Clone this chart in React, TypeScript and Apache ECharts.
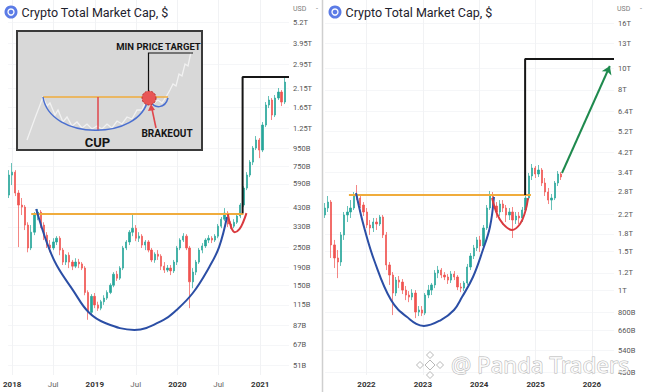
import React, { useEffect, useRef } from "react";
import * as echarts from "echarts";

// [date, open, close, low, high] in billions USD
type Candle = [string, number, number, number, number];
type Pt = [string, number];

const leftCandles: Candle[] = [
  ["2017-12-18", 507, 664, 487, 710],
  ["2018-01-01", 664, 691, 580, 781],
  ["2018-01-15", 691, 521, 500, 710],
  ["2018-01-29", 521, 443, 251, 542],
  ["2018-02-12", 443, 431, 387, 487],
  ["2018-02-26", 431, 338, 316, 443],
  ["2018-03-12", 338, 248, 234, 351],
  ["2018-03-26", 248, 307, 241, 338],
  ["2018-04-09", 307, 387, 295, 403],
  ["2018-04-23", 387, 403, 361, 420],
  ["2018-05-07", 403, 338, 324, 414],
  ["2018-05-21", 338, 295, 276, 351],
  ["2018-06-04", 295, 258, 248, 307],
  ["2018-06-18", 258, 248, 234, 276],
  ["2018-07-02", 248, 269, 241, 283],
  ["2018-07-16", 269, 283, 258, 291],
  ["2018-07-30", 283, 241, 225, 291],
  ["2018-08-13", 241, 205, 197, 248],
  ["2018-08-27", 205, 225, 197, 228],
  ["2018-09-10", 225, 205, 189, 234],
  ["2018-09-24", 205, 194, 184, 211],
  ["2018-10-08", 194, 205, 189, 216],
  ["2018-10-22", 205, 200, 189, 214],
  ["2018-11-05", 200, 189, 184, 205],
  ["2018-11-19", 189, 136, 131, 194],
  ["2018-12-03", 136, 104, 94, 140],
  ["2018-12-17", 104, 129, 99, 133],
  ["2018-12-31", 129, 115, 110, 135],
  ["2019-01-14", 115, 110, 106, 120],
  ["2019-01-28", 110, 120, 107, 123],
  ["2019-02-11", 120, 126, 115, 131],
  ["2019-02-25", 126, 136, 123, 140],
  ["2019-03-11", 136, 150, 133, 154],
  ["2019-03-25", 150, 174, 146, 179],
  ["2019-04-08", 174, 165, 159, 182],
  ["2019-04-22", 165, 189, 161, 194],
  ["2019-05-06", 189, 248, 184, 255],
  ["2019-05-20", 248, 269, 241, 276],
  ["2019-06-03", 269, 307, 258, 316],
  ["2019-06-17", 307, 324, 291, 397],
  ["2019-07-01", 324, 283, 272, 338],
  ["2019-07-15", 283, 291, 269, 307],
  ["2019-07-29", 291, 258, 248, 299],
  ["2019-08-12", 258, 269, 241, 276],
  ["2019-08-26", 269, 241, 234, 276],
  ["2019-09-09", 241, 211, 205, 248],
  ["2019-09-23", 211, 228, 203, 234],
  ["2019-10-07", 228, 222, 211, 241],
  ["2019-10-21", 222, 194, 184, 228],
  ["2019-11-04", 194, 184, 177, 205],
  ["2019-11-18", 184, 189, 179, 197],
  ["2019-12-02", 189, 182, 172, 197],
  ["2019-12-16", 182, 205, 177, 211],
  ["2019-12-30", 205, 248, 197, 255],
  ["2020-01-13", 248, 276, 241, 283],
  ["2020-01-27", 276, 291, 269, 303],
  ["2020-02-10", 291, 248, 241, 299],
  ["2020-02-24", 248, 157, 110, 255],
  ["2020-03-09", 157, 179, 144, 189],
  ["2020-03-23", 179, 205, 172, 211],
  ["2020-04-06", 205, 241, 200, 248],
  ["2020-04-20", 241, 255, 231, 265],
  ["2020-05-04", 255, 276, 248, 283],
  ["2020-05-18", 276, 283, 265, 295],
  ["2020-06-01", 283, 276, 265, 291],
  ["2020-06-15", 276, 291, 269, 299],
  ["2020-06-29", 291, 333, 283, 343],
  ["2020-07-13", 333, 366, 324, 377],
  ["2020-07-27", 366, 397, 356, 425],
  ["2020-08-10", 397, 343, 329, 408],
  ["2020-08-24", 343, 333, 320, 356],
  ["2020-09-07", 333, 351, 324, 366],
  ["2020-09-21", 351, 382, 343, 392],
  ["2020-10-05", 382, 443, 371, 455],
  ["2020-10-19", 443, 557, 431, 572],
  ["2020-11-02", 557, 664, 542, 691],
  ["2020-11-16", 664, 791, 646, 813],
  ["2020-11-30", 791, 956, 760, 983],
  ["2020-12-14", 956, 1066, 931, 1125],
  ["2020-12-28", 1066, 931, 835, 1095],
  ["2021-01-11", 931, 1305, 906, 1359],
  ["2021-01-25", 1305, 1710, 1270, 1781],
  ["2021-02-08", 1710, 1830, 1642, 1932],
  ["2021-02-22", 1830, 1494, 1397, 1880],
  ["2021-03-08", 1494, 1880, 1454, 1958],
  ["2021-03-22", 1880, 2038, 1830, 2152],
  ["2021-04-05", 2038, 1781, 1687, 2095],
  ["2021-04-19", 1781, 2332, 1733, 2462],
];

const rightCandles: Candle[] = [
  ["2021-04-05", 2189, 2353, 2122, 2478],
  ["2021-04-26", 2353, 2502, 2258, 2665],
  ["2021-05-17", 2502, 1605, 1402, 2555],
  ["2021-06-07", 1605, 1402, 1263, 1690],
  ["2021-06-28", 1402, 1345, 1138, 1523],
  ["2021-07-19", 1345, 1780, 1291, 1835],
  ["2021-08-09", 1780, 2189, 1690, 2258],
  ["2021-08-30", 2189, 2258, 2035, 2402],
  ["2021-09-20", 2258, 2353, 2122, 2555],
  ["2021-10-11", 2353, 2693, 2305, 2778],
  ["2021-11-01", 2693, 2609, 2555, 2986],
  ["2021-11-22", 2609, 2427, 2353, 2721],
  ["2021-12-13", 2427, 2258, 2166, 2502],
  ["2022-01-03", 2258, 1973, 1913, 2353],
  ["2022-01-24", 1973, 1913, 1780, 2078],
  ["2022-02-14", 1913, 2035, 1835, 2122],
  ["2022-03-07", 2035, 1994, 1874, 2122],
  ["2022-03-28", 1994, 2144, 1953, 2189],
  ["2022-04-18", 2144, 1780, 1725, 2189],
  ["2022-05-09", 1780, 1304, 1237, 1835],
  ["2022-05-30", 1304, 1175, 1060, 1345],
  ["2022-06-20", 1175, 975, 776, 1212],
  ["2022-07-11", 975, 1115, 945, 1151],
  ["2022-08-01", 1115, 1092, 1026, 1163],
  ["2022-08-22", 1092, 1005, 965, 1127],
  ["2022-09-12", 1005, 955, 906, 1049],
  ["2022-10-03", 955, 935, 887, 995],
  ["2022-10-24", 935, 975, 906, 1015],
  ["2022-11-14", 975, 801, 752, 1005],
  ["2022-12-05", 801, 818, 768, 852],
  ["2022-12-26", 818, 792, 768, 852],
  ["2023-01-16", 792, 955, 776, 975],
  ["2023-02-06", 955, 1005, 925, 1060],
  ["2023-02-27", 1005, 1060, 955, 1082],
  ["2023-03-20", 1060, 1200, 1026, 1237],
  ["2023-04-10", 1200, 1237, 1138, 1291],
  ["2023-05-01", 1237, 1175, 1138, 1263],
  ["2023-05-22", 1175, 1151, 1115, 1212],
  ["2023-06-12", 1151, 1115, 1071, 1187],
  ["2023-07-03", 1115, 1187, 1082, 1224],
  ["2023-07-24", 1187, 1151, 1115, 1224],
  ["2023-08-14", 1151, 1038, 1005, 1175],
  ["2023-09-04", 1038, 1026, 984, 1082],
  ["2023-09-25", 1026, 1082, 995, 1104],
  ["2023-10-16", 1082, 1277, 1060, 1318],
  ["2023-11-06", 1277, 1431, 1237, 1476],
  ["2023-11-27", 1431, 1555, 1387, 1605],
  ["2023-12-18", 1555, 1690, 1507, 1743],
  ["2024-01-08", 1690, 1588, 1492, 1762],
  ["2024-01-29", 1588, 1913, 1539, 1973],
  ["2024-02-19", 1913, 2353, 1874, 2427],
  ["2024-03-11", 2353, 2693, 2305, 2807],
  ["2024-04-01", 2693, 2402, 2305, 2778],
  ["2024-04-22", 2402, 2258, 2122, 2502],
  ["2024-05-13", 2258, 2452, 2166, 2555],
  ["2024-06-03", 2452, 2353, 2258, 2555],
  ["2024-06-24", 2353, 2189, 2035, 2427],
  ["2024-07-15", 2189, 2258, 2078, 2353],
  ["2024-08-05", 2258, 2078, 1725, 2377],
  ["2024-08-26", 2078, 2166, 1994, 2258],
  ["2024-09-16", 2166, 2122, 1994, 2258],
  ["2024-10-07", 2122, 2305, 2035, 2377],
  ["2024-10-28", 2305, 2609, 2258, 2693],
  ["2024-11-18", 2609, 3279, 2555, 3383],
  ["2024-12-09", 3279, 3561, 3145, 3712],
  ["2024-12-30", 3561, 3347, 3211, 3636],
  ["2025-01-20", 3347, 3488, 3245, 3674],
  ["2025-02-10", 3488, 3049, 2955, 3561],
  ["2025-03-03", 3049, 2778, 2665, 3211],
  ["2025-03-24", 2778, 2555, 2452, 2896],
  ["2025-04-14", 2555, 2609, 2305, 2721],
  ["2025-05-05", 2609, 3049, 2555, 3113],
  ["2025-05-26", 3049, 3347, 2955, 3452],
  ["2025-06-16", 3347, 3245, 3145, 3416],
];

const leftXTicks = ["2018-01-01", "2018-07-01", "2019-01-01", "2019-07-01", "2020-01-01", "2020-07-01", "2021-01-01"];
const rightXTicks = ["2022-01-01", "2023-01-01", "2024-01-01", "2025-01-01", "2026-01-01"];
const leftYTicks = [5200, 3950, 2950, 2150, 1650, 1250, 950, 750, 590, 430, 330, 250, 190, 150, 115, 87, 67, 51];
const rightYTicks = [16000, 13000, 10000, 8000, 6400, 5200, 4200, 3400, 2800, 2200, 1800, 1500, 1200, 1000, 800, 660, 540, 430];

// annotation drawings, in data coordinates
const leftNeckline: Pt[] = [["2018-03-26", 392], ["2020-10-19", 392]];
const leftCup: Pt[] = [
  ["2018-04-17", 420], ["2018-06-04", 265], ["2018-07-16", 197], ["2018-09-27", 140],
  ["2018-12-05", 104], ["2019-02-16", 90], ["2019-06-25", 82], ["2019-11-01", 94],
  ["2019-12-27", 107], ["2020-03-09", 135], ["2020-05-21", 192], ["2020-07-03", 251], ["2020-08-07", 377],
];
const leftHandle: Pt[] = [
  ["2020-08-11", 392], ["2020-08-24", 333], ["2020-09-10", 307], ["2020-10-01", 320], ["2020-10-19", 356], ["2020-11-01", 397],
];
const leftTarget: Pt[] = [["2020-10-15", 397], ["2020-10-15", 2497], ["2021-05-08", 2497]];

const rightNeckline: Pt[] = [["2021-09-09", 2693], ["2024-12-02", 2693]];
const rightCup: Pt[] = [
  ["2021-10-25", 2750], ["2021-12-16", 1932], ["2022-02-19", 1373], ["2022-06-09", 906],
  ["2022-09-21", 760], ["2023-01-08", 693], ["2023-04-28", 737], ["2023-07-22", 818],
  ["2023-09-12", 935], ["2023-11-22", 1151], ["2024-01-25", 1523], ["2024-03-11", 1932], ["2024-04-06", 2637],
];
const rightHandle: Pt[] = [
  ["2024-03-25", 2609], ["2024-04-26", 2212], ["2024-06-04", 1994], ["2024-08-01", 1874],
  ["2024-09-22", 1994], ["2024-10-25", 2258], ["2024-11-13", 2609],
];
const rightTarget: Pt[] = [["2024-10-25", 2693], ["2024-10-25", 11019], ["2026-05-24", 11019]];
const rightProjection: Pt[] = [["2025-06-21", 3383], ["2026-04-27", 10249]];

const MONTHS = ["Jan", "Feb", "Mar", "Apr", "May", "Jun", "Jul", "Aug", "Sep", "Oct", "Nov", "Dec"];
const FONT = "Roboto, 'Noto Sans', sans-serif";
const UP = "#26a69a";
const DOWN = "#ef5350";
const ORANGE = "#f0ac3c";
const BLUE = "#2b4ea5";
const RED = "#d93a3f";
const BLACK = "#161616";
const GREEN = "#1f8a4e";

const t = (s: string) => Date.parse(s);
const pts = (a: Pt[]) => a.map(([d, v]) => [t(d), v]);
const candles = (a: Candle[]) => a.map(([d, o, c, l, h]) => [t(d), o, c, l, h]);

const fmtB = (v: number) => (v >= 1000 ? `${+(v / 1000).toFixed(2)}T` : `${Math.round(v)}B`);

function xAxisCfg(gridIndex: number, min: string, max: string, ticks: string[]) {
  const vals = ticks.map(t);
  return {
    type: "value",
    gridIndex,
    min: t(min),
    max: t(max),
    axisLine: { show: false },
    axisTick: { show: false, customValues: vals },
    splitLine: { show: true, lineStyle: { color: "#f1f2f4", width: 1 } },
    axisLabel: {
      customValues: vals,
      margin: 5,
      hideOverlap: false,
      alignMinLabel: "center",
      alignMaxLabel: "center",
      formatter: (v: number) => {
        const d = new Date(v);
        return d.getUTCMonth() === 0 ? `{y|${d.getUTCFullYear()}}` : `{m|${MONTHS[d.getUTCMonth()]}}`;
      },
      rich: {
        y: { fontSize: 8, fontWeight: "bold", color: "#333", fontFamily: FONT },
        m: { fontSize: 8, color: "#666", fontFamily: FONT },
      },
    },
  };
}

function yAxisCfg(gridIndex: number, min: number, max: number, ticks: number[]) {
  return {
    type: "log",
    logBase: 10,
    gridIndex,
    position: "right",
    min,
    max,
    axisLine: { show: false },
    axisTick: { show: false, customValues: ticks },
    splitLine: { show: true, lineStyle: { color: "#f5f6f8", width: 1 } },
    axisLabel: {
      customValues: ticks,
      margin: 4,
      hideOverlap: false,
      fontSize: 7.5,
      fontFamily: FONT,
      color: "#555",
      formatter: fmtB,
    },
  };
}

function candleSeries(axis: number, data: Candle[]) {
  return {
    type: "candlestick",
    xAxisIndex: axis,
    yAxisIndex: axis,
    data: candles(data),
    barWidth: 1.8,
    silent: true,
    itemStyle: { color: UP, color0: DOWN, borderColor: UP, borderColor0: DOWN, borderWidth: 0.7 },
    z: 2,
  };
}

function lineSeries(axis: number, data: Pt[], color: string, smooth: number | boolean, z = 4) {
  return {
    type: "line",
    xAxisIndex: axis,
    yAxisIndex: axis,
    data: pts(data),
    smooth,
    symbol: "none",
    showSymbol: false,
    silent: true,
    lineStyle: { color, width: 2 },
    z,
  };
}

function titleBlock(cx: number): any[] {
  return [
    { type: "circle", shape: { cx, cy: 12, r: 6.5 }, style: { fill: "#5b7be6" }, z: 100 },
    { type: "circle", shape: { cx, cy: 12, r: 3 }, style: { fill: null, stroke: "#fff", lineWidth: 1.3 }, z: 101 },
    {
      type: "text", x: cx + 10.5, y: 12.5, z: 100,
      style: { text: "Crypto Total Market Cap, $", fontSize: 12.5, fontFamily: FONT, fill: "#1e222d", textAlign: "left", textVerticalAlign: "middle", align: "left", verticalAlign: "middle" },
    },
  ];
}

function usdBlock(x: number): any[] {
  return [
    { type: "text", x, y: 9, z: 100, style: { text: "USD", fontSize: 7, fontFamily: FONT, fill: "#7a7a7a", textVerticalAlign: "middle", verticalAlign: "middle" } },
    { type: "text", x: x + 23, y: 9, z: 100, style: { text: "-", fontSize: 7, fontFamily: FONT, fill: "#7a7a7a", textVerticalAlign: "middle", verticalAlign: "middle" } },
  ];
}

const insetPrice = [
  [27, 140], [35, 118], [40, 105], [43, 97], [47, 106], [50, 103], [55, 115], [58, 110], [63, 122], [67, 117],
  [72, 126], [77, 122], [82, 128], [87, 124], [92, 129], [97, 126], [102, 129], [107, 124], [112, 128], [117, 121],
  [122, 124], [127, 117], [132, 119], [137, 110], [142, 110], [146, 100], [150, 96], [154, 103], [158, 100],
  [162, 103], [166, 97], [170, 90], [173, 84], [176, 86], [179, 74], [182, 76], [185, 64], [188, 66], [191, 52],
];

function insetBlock(): any[] {
  const bold = (text: string, x: number, y: number, size: number) => ({
    type: "text", x, y, z: 104,
    style: { text, fontSize: size, fontWeight: "bold", fontFamily: FONT, fill: "#151515", textAlign: "center", textVerticalAlign: "middle", align: "center", verticalAlign: "middle" },
  });
  return [
    { type: "rect", shape: { x: 17, y: 31, width: 185, height: 119 }, style: { fill: "#d8d8d8", stroke: "#3a3a3a", lineWidth: 2 }, z: 100 },
    { type: "polyline", shape: { points: insetPrice }, style: { stroke: "#f4f4f4", lineWidth: 1.3, fill: null, opacity: 0.9 }, z: 101 },
    { type: "line", shape: { x1: 43, y1: 97, x2: 168, y2: 97 }, style: { stroke: ORANGE, lineWidth: 1.5 }, z: 102 },
    { type: "line", shape: { x1: 98, y1: 97, x2: 98, y2: 131 }, style: { stroke: "#e0474c", lineWidth: 1.5 }, z: 102 },
    { type: "bezierCurve", shape: { x1: 43, y1: 97, cpx1: 50, cpy1: 141, cpx2: 140, cpy2: 141, x2: 148, y2: 99 }, style: { stroke: "#4a6fd0", lineWidth: 1.5, fill: null }, z: 102 },
    { type: "bezierCurve", shape: { x1: 151, y1: 101, cpx1: 154, cpy1: 109, cpx2: 165, cpy2: 109, x2: 168, y2: 98 }, style: { stroke: "#4a6fd0", lineWidth: 1.5, fill: null }, z: 102 },
    { type: "circle", shape: { cx: 149, cy: 98, r: 7 }, style: { fill: "#e85656", stroke: "#b52a2a", lineWidth: 1, lineDash: [2, 1.5] }, z: 103 },
    { type: "polyline", shape: { points: [[148.5, 91], [148.5, 53], [193, 53]] }, style: { stroke: "#111", lineWidth: 1.2, fill: null }, z: 103 },
    { type: "line", shape: { x1: 156, y1: 128, x2: 152, y2: 109 }, style: { stroke: "#e0474c", lineWidth: 1.6 }, z: 103 },
    { type: "polygon", shape: { points: [[151, 104], [148, 111], [155, 110]] }, style: { fill: "#e0474c" }, z: 103 },
    bold("MIN PRICE TARGET", 158.5, 46, 9.5),
    bold("BRAKEOUT", 167, 133, 10),
    bold("CUP", 97.5, 142, 13),
  ];
}

function watermarkBlock(): any[] {
  const diamond = (cx: number, cy: number, r: number) => ({
    type: "polygon", z: 110,
    shape: { points: [[cx, cy - r], [cx + r, cy], [cx, cy + r], [cx - r, cy]] },
    style: { fill: "rgba(255,255,255,0.85)", stroke: "#b8b8b8", lineWidth: 1 },
  });
  return [
    diamond(430, 365, 5),
    diamond(420, 365, 3.5),
    diamond(440, 365, 3.5),
    diamond(430, 355, 3.5),
    diamond(430, 375, 3.5),
    {
      type: "text", x: 451, y: 364.5, z: 110,
      style: { text: "@ Panda Traders", fontSize: 22.5, fontFamily: "'Noto Sans', sans-serif", fill: "rgba(255,255,255,0.85)", stroke: "#b4b4b4", lineWidth: 1, textAlign: "left", textVerticalAlign: "middle", align: "left", verticalAlign: "middle" },
    },
  ];
}

export default function App() {
  const ref = useRef<HTMLDivElement>(null);
  useEffect(() => {
    if (!ref.current) return;
    const chart = echarts.init(ref.current, undefined, { renderer: "svg" });
    const option: any = {
      animation: false,
      backgroundColor: "#ffffff",
      grid: [
        { left: 0, top: 0, width: 289, height: 375 },
        { left: 325, top: 0, width: 289, height: 375 },
      ],
      xAxis: [
        xAxisCfg(0, "2017-12-14", "2021-05-08", leftXTicks),
        xAxisCfg(1, "2021-04-07", "2026-05-24", rightXTicks),
      ],
      yAxis: [
        yAxisCfg(0, 44.6, 7067, leftYTicks),
        yAxisCfg(1, 417, 20310, rightYTicks),
      ],
      series: [
        candleSeries(0, leftCandles),
        lineSeries(0, leftNeckline, ORANGE, false, 3),
        lineSeries(0, leftCup, BLUE, 0.4),
        lineSeries(0, leftHandle, RED, 0.4),
        lineSeries(0, leftTarget, BLACK, false, 5),
        candleSeries(1, rightCandles),
        lineSeries(1, rightNeckline, ORANGE, false, 3),
        lineSeries(1, rightCup, BLUE, 0.4),
        lineSeries(1, rightHandle, RED, 0.4),
        lineSeries(1, rightTarget, BLACK, false, 5),
        {
          type: "lines",
          coordinateSystem: "cartesian2d",
          xAxisIndex: 1,
          yAxisIndex: 1,
          silent: true,
          symbol: ["none", "arrow"],
          symbolSize: 8,
          lineStyle: { color: GREEN, width: 2, opacity: 1, curveness: 0 },
          data: [{ coords: pts(rightProjection) }],
          z: 6,
        },
      ],
      graphic: {
        elements: [
          { type: "line", shape: { x1: 322.5, y1: 0, x2: 322.5, y2: 392 }, style: { stroke: "#cfcfcf", lineWidth: 1.5 }, z: 100 },
          ...titleBlock(11),
          ...titleBlock(335),
          ...usdBlock(293),
          ...usdBlock(617),
          ...insetBlock(),
          ...watermarkBlock(),
        ],
      },
    };
    chart.setOption(option);
    return () => chart.dispose();
  }, []);
  return (
    <div
      ref={ref}
      style={{ position: "absolute", left: 0, top: 0, width: 648, height: 392, background: "#fff" }}
    />
  );
}
